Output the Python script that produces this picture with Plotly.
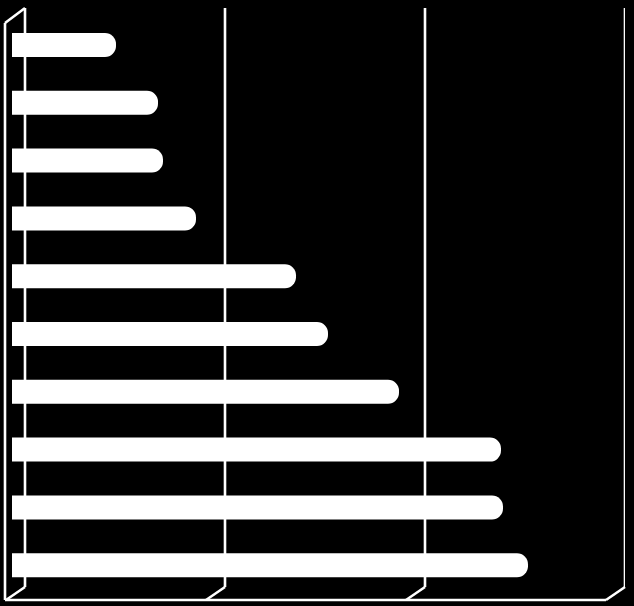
import plotly.graph_objects as go

categories = ["A", "B", "C", "D", "E", "F", "G", "H", "I", "J"]
values = [0.52, 0.73, 0.755, 0.92, 1.42, 1.58, 1.935, 2.445, 2.455, 2.58]
tick_values = [0, 1, 2, 3]

W, H = 634, 606
ML, MR, MT, MB = 5, 9, 8, 19
pw, ph = W - ML - MR, H - MT - MB

def px(xp):
    return (xp - ML) / pw

def py(yp):
    return (H - MB - yp) / ph

fig = go.Figure()
fig.add_trace(go.Bar(
    y=list(range(len(categories))), x=values, orientation="h",
    marker=dict(color="white", line=dict(width=0), cornerradius=11),
    width=0.415, xaxis="x2", yaxis="y",
    text=categories, hoverinfo="x+text", textposition="none",
))

line = dict(color="white", width=2.6)
shapes = []
# back-wall gridlines
for t in tick_values:
    shapes.append(dict(type="line", xref="x", yref="paper", x0=t, x1=t, y0=0, y1=1, line=line))
# floor diagonals
for t in tick_values:
    xb = px(25 + 200 * t)
    shapes.append(dict(type="line", xref="paper", yref="paper",
                       x0=xb, y0=0, x1=xb - 19 / pw, y1=py(600), line=line))
# floor front edge
shapes.append(dict(type="line", xref="paper", yref="paper",
                   x0=px(5), y0=py(600), x1=px(606), y1=py(600), line=line))
# left wall front edge + top
shapes.append(dict(type="line", xref="paper", yref="paper",
                   x0=px(5), y0=py(600), x1=px(5), y1=py(23), line=line))
shapes.append(dict(type="line", xref="paper", yref="paper",
                   x0=px(5), y0=py(23), x1=px(25), y1=py(8), line=line))

fig.update_layout(
    width=W, height=H,
    margin=dict(l=ML, r=MR, t=MT, b=MB, pad=0),
    paper_bgcolor="black", plot_bgcolor="black",
    showlegend=False,
    xaxis=dict(range=[-0.1, 3.0], visible=False, fixedrange=True),
    xaxis2=dict(range=[-0.035, 3.065], overlaying="x", visible=False, fixedrange=True),
    yaxis=dict(range=[9.377, -0.640], visible=False, fixedrange=True),
    shapes=shapes,
)
fig.write_html(
    "out.html",
    config={"displayModeBar": False},
    post_script="document.body.style.margin='0px';document.body.style.background='black';",
)
